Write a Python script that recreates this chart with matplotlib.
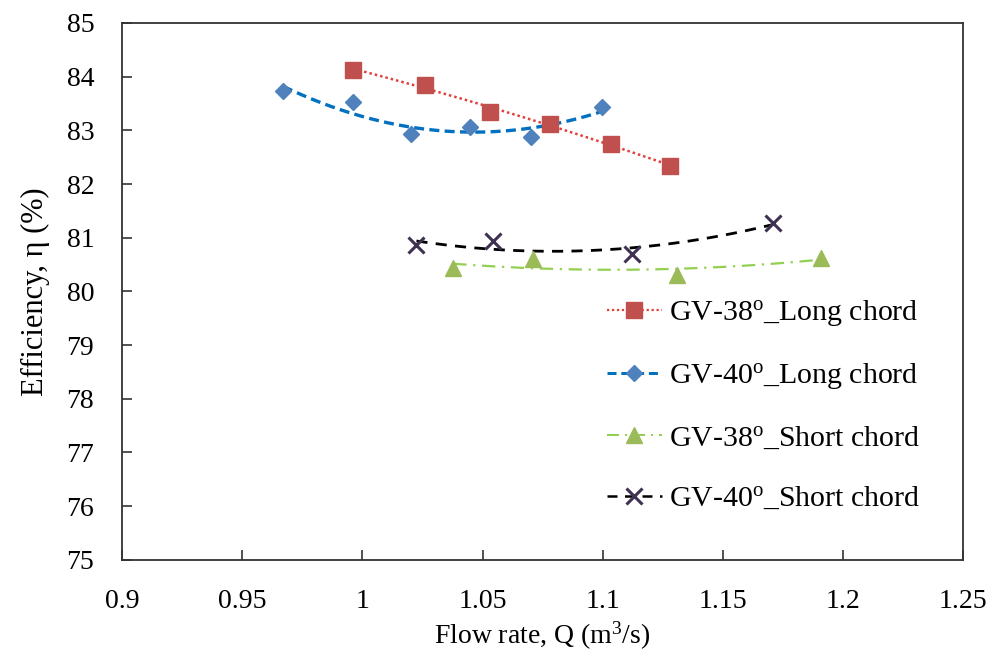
import numpy as np
import matplotlib
matplotlib.use("Agg")
import matplotlib.pyplot as plt

plt.rcParams['font.family'] = ['Liberation Serif', 'DejaVu Serif']
plt.rcParams['mathtext.fontset'] = 'custom'
plt.rcParams['mathtext.rm'] = 'Liberation Serif'
plt.rcParams['mathtext.it'] = 'Liberation Serif:italic'

# Measured efficiency vs. flow rate for each guide-vane configuration
q_gv38_long = [0.9963, 1.026, 1.053, 1.078, 1.1035, 1.128]
eff_gv38_long = [84.13, 83.85, 83.35, 83.12, 82.74, 82.34]

q_gv40_long = [0.967, 0.996, 1.0204, 1.0446, 1.070, 1.0996]
eff_gv40_long = [83.73, 83.52, 82.93, 83.07, 82.87, 83.43]

q_gv38_short = [1.0378, 1.0711, 1.131, 1.191]
eff_gv38_short = [80.43, 80.60, 80.30, 80.63]

q_gv40_short = [1.0225, 1.0545, 1.112, 1.171]
eff_gv40_short = [80.86, 80.94, 80.70, 81.28]

labels = [r'GV-38$^{\mathrm{o}}$_Long chord',
          r'GV-40$^{\mathrm{o}}$_Long chord',
          r'GV-38$^{\mathrm{o}}$_Short chord',
          r'GV-40$^{\mathrm{o}}$_Short chord']

x_ticks = [0.9, 0.95, 1, 1.05, 1.1, 1.15, 1.2, 1.25]
x_tick_labels = ['0.9', '0.95', '1', '1.05', '1.1', '1.15', '1.2', '1.25']
y_ticks = list(range(75, 86))

fig = plt.figure(figsize=(9.92, 6.57), dpi=100)
ax = fig.add_axes([0.123, 0.148, 0.848, 0.817])

series = [
    (q_gv38_long, eff_gv38_long, dict(marker='s', mfc='#C0504D', mec='#C0504D', ms=11,
                                      line_color='#E0403A', ls=(0, (1, 1.2)), lw=1.8)),
    (q_gv40_long, eff_gv40_long, dict(marker='D', mfc='#4F81BD', mec='#4F81BD', ms=8.5,
                                      line_color='#0070C0', ls=(0, (3, 1.6)), lw=2.4)),
    (q_gv38_short, eff_gv38_short, dict(marker='^', mfc='#9BBB59', mec='#9BBB59', ms=11,
                                        line_color='#92D050', ls=(0, (6, 3, 1, 3)), lw=1.6)),
    (q_gv40_short, eff_gv40_short, dict(marker='x', mfc='#3F3151', mec='#3F3151', ms=11,
                                        line_color='black', ls=(0, (4, 3)), lw=2.0)),
]

handles = []
for (q, eff, st), lab in zip(series, labels):
    q = np.asarray(q)
    eff = np.asarray(eff)
    # second-order trend line over the measured range
    coef = np.polyfit(q, eff, 2)
    qq = np.linspace(q.min(), q.max(), 200)
    ax.plot(qq, np.polyval(coef, qq), color=st['line_color'], ls=st['ls'], lw=st['lw'], zorder=2)
    ax.plot(q, eff, ls='none', marker=st['marker'], mfc=st['mfc'], mec=st['mec'],
            ms=st['ms'], mew=2.2 if st['marker'] == 'x' else 1, zorder=3)
    h, = ax.plot([], [], color=st['line_color'], ls=st['ls'], lw=st['lw'] * 0.9,
                 marker=st['marker'], mfc=st['mfc'], mec=st['mec'],
                 ms=st['ms'], mew=2.2 if st['marker'] == 'x' else 1, label=lab)
    handles.append(h)

ax.set_xlim(0.9, 1.25)
ax.set_ylim(75, 85)
ax.set_xticks(x_ticks)
ax.set_xticklabels(x_tick_labels, fontfamily='Liberation Serif')
ax.set_yticks(y_ticks)
ax.set_yticklabels([str(v) for v in y_ticks], fontfamily='Liberation Serif')
ax.tick_params(direction='in', length=7, width=1.2, labelsize=20,
               top=False, right=False, color='#333333')
ax.tick_params(axis='x', pad=21)
ax.tick_params(axis='y', pad=20)
for s in ax.spines.values():
    s.set_linewidth(1.3)
    s.set_color('#333333')

ax.set_xlabel('Flow rate, Q (m$^3$/s)', fontsize=20, labelpad=4)
ax.set_ylabel('Efficiency, η (%)', fontsize=22, labelpad=12)

ax.legend(handles=handles, loc='upper left', bbox_to_anchor=(0.562, 0.51),
          frameon=False, fontsize=21.5, handlelength=1.85, handletextpad=0.25,
          labelspacing=1.12, borderaxespad=0)

fig.savefig('out.png', dpi=100)
